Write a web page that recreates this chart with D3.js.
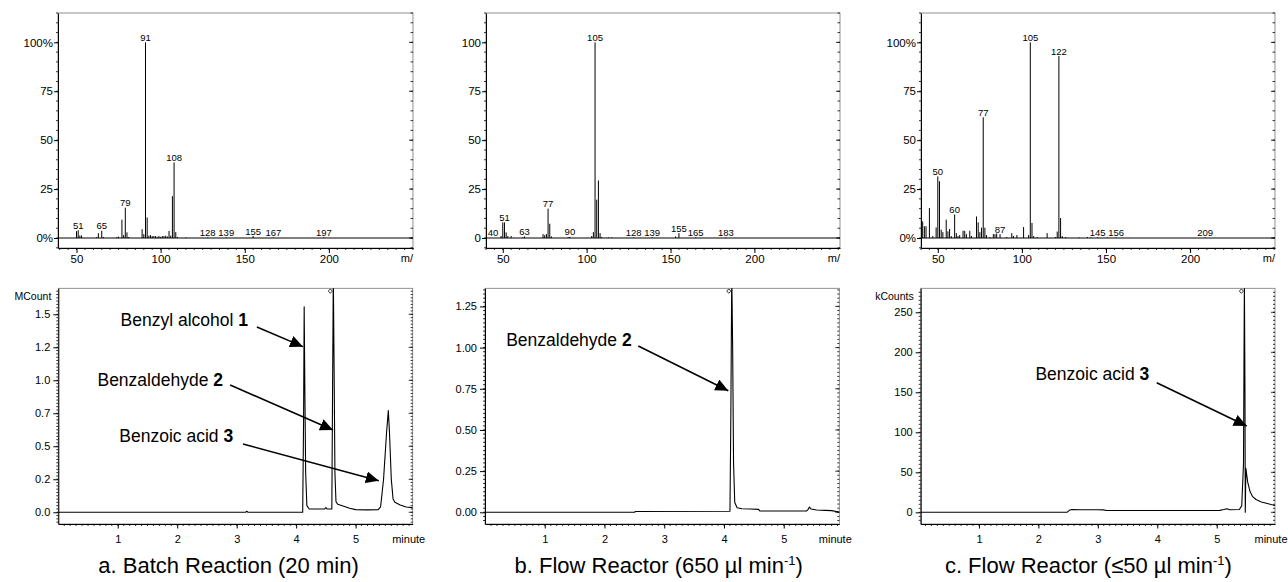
<!DOCTYPE html>
<html>
<head>
<meta charset="utf-8">
<script src="https://cdn.jsdelivr.net/npm/d3@7"></script>
<style>
    body { margin: 0; background: #fff; }
    svg { font-family: "Liberation Sans", Arial, Helvetica, sans-serif; }
</style>
</head>
<body>
<svg id="chart" width="1288" height="582"></svg>
<script>
// Mass spectra: [m/z, relative intensity %]
const specA = [[50,3.5],[51,4],[52,1.3],[53,1.3],[62,0.5],[63,2.5],[65,3.7],[66,0.5],[74,0.5],[75,0.7],
    [77,9.4],[78,1.5],[79,15.5],[80,2.9],[81,0.5],[89,4.5],[90,2],[91,100],[92,10.5],[93,1.2],[94,1.5],
    [95,1],[96,1],[97,1],[98,0.6],[99,1],[100,0.6],[101,1],[102,1],[103,1.2],[104,0.8],[105,3.6],[106,1.2],
    [107,21.4],[108,38.6],[109,3],[110,0.5],[115,0.3],[128,0.3],[139,0.3],[155,1],[167,0.3],[197,0.4]];
const specALabels = [51, 65, 79, 91, 108, 128, 139, 155, 167, 197];

const specB = [[40,0.3],[49,1],[50,8],[51,8],[52,2.9],[53,1],[55,1],[62,0.4],[63,0.8],[74,2],[75,1.5],
    [76,2],[77,15],[78,7.3],[79,0.8],[89,0.5],[90,0.6],[103,1],[104,3],[105,100],[106,19.6],[107,29.4],
    [108,2.5],[109,0.5],[113,0.3],[115,0.3],[128,0.3],[139,0.3],[153,0.8],[155,2.5],[165,0.3],[183,0.3]];
const specBLabels = [40, 51, 63, 77, 90, 105, 128, 139, 155, 165, 183];

const specC = [[41,8.5],[42,6],[43,6],[45,15.3],[47,1],[49,5.4],[50,31.5],[51,29],[52,4.3],[53,3],
    [55,9.4],[56,3.4],[57,4.6],[58,1],[60,12],[61,2.5],[62,1],[63,1.5],[65,3.7],[66,3.7],[67,2],[69,3.7],
    [70,1],[73,11],[74,8],[75,3],[76,5.3],[77,61.7],[78,5.3],[79,1.5],[81,0.5],[83,2],[84,2],[85,2.3],
    [87,2],[91,0.5],[94,2.5],[95,1],[97,1.5],[101,5.6],[104,1.5],[105,100],[106,7.7],[107,1],[109,0.5],
    [115,2.5],[120,0.5],[121,3.3],[122,93],[123,10.2],[124,1],[126,0.5],[134,0.3],[139,0.5],[141,0.3],
    [145,0.3],[151,0.3],[156,0.3],[209,0.3]];
const specCLabels = [50, 60, 77, 87, 105, 122, 145, 156, 209];

const specYTicks = [0, 25, 50, 75, 100];
const specYLabelsPct = ["0%", "25", "50", "75", "100%"];
const specYLabelsPlain = ["0", "25", "50", "75", "100"];
const mzTicks = [50, 100, 150, 200];

// Chromatograms: [time (min), signal]
const chromA = [[0,0],[3.15,0],[3.17,0.008],[3.19,0],[4.11,0],[4.125,0.7],[4.135,1.557],[4.145,1.0],
    [4.16,0.3],[4.18,0.05],[4.22,0.025],[4.48,0.025],[4.5,0.035],[4.52,0.025],[4.6,0.025],[4.612,0.9],
    [4.625,1.8],[4.638,1.1],[4.652,0.3],[4.67,0.08],[4.7,0.06],[4.8,0.045],[4.9,0.03],[5.0,0.02],
    [5.2,0.018],[5.38,0.02],[5.42,0.04],[5.47,0.25],[5.52,0.6],[5.55,0.77],[5.57,0.6],[5.6,0.25],
    [5.63,0.1],[5.66,0.075],[5.75,0.055],[5.85,0.04],[5.96,0.035]];
const chromB = [[0,0],[2.5,0],[2.52,0.005],[4.1,0.006],[4.115,0.6],[4.13,1.45],[4.145,1.0],[4.16,0.3],
    [4.18,0.06],[4.22,0.028],[4.3,0.022],[4.45,0.02],[4.58,0.018],[4.6,0.008],[5.38,0.008],[5.41,0.018],
    [5.43,0.032],[5.46,0.02],[5.55,0.014],[5.7,0.012],[5.8,0.01],[5.93,0.002]];
const chromC = [[0,0],[2.48,0],[2.52,2.5],[2.56,3.5],[2.7,3.3],[3.0,3.2],[3.1,3],[3.14,2.4],[4.0,2.3],
    [5.05,2.4],[5.12,3.5],[5.17,4.5],[5.22,3.2],[5.38,3.5],[5.42,8],[5.45,60],[5.465,290],[5.475,150],
    [5.48,0],[5.49,55],[5.52,38],[5.56,26],[5.6,20],[5.66,16],[5.75,13],[5.85,11],[5.98,8.5]];

const chromATicks = [0, 0.25, 0.5, 0.75, 1.0, 1.25, 1.5];
const chromATickLabels = ["0.0", "0.2", "0.5", "0.7", "1.0", "1.2", "1.5"];
const chromBTicks = [0, 0.25, 0.5, 0.75, 1.0, 1.25];
const chromBTickLabels = ["0.00", "0.25", "0.50", "0.75", "1.00", "1.25"];
const chromCTicks = [0, 50, 100, 150, 200, 250];
const chromCTickLabels = ["0", "50", "100", "150", "200", "250"];
const timeTicks = [1, 2, 3, 4, 5];

const captions = ["a. Batch Reaction (20 min)", "b. Flow Reactor (650 \u00b5l min", "c. Flow Reactor (\u226450 \u00b5l min"];

const svg = d3.select('#chart');

// arrowhead marker
svg.append('defs').append('marker')
    .attr('id', 'arrow')
    .attr('markerUnits', 'userSpaceOnUse')
    .attr('markerWidth', 14).attr('markerHeight', 12)
    .attr('refX', 13).attr('refY', 6)
    .attr('orient', 'auto')
    .append('path')
    .attr('d', 'M0,0 L13,6 L0,12 Z')
    .attr('fill', '#000');

function styleAxis(g, size) {
    g.attr('font-family', null).attr('font-size', size);
    g.selectAll('path.domain').attr('stroke', '#000');
    g.selectAll('line').attr('stroke', '#000');
    g.selectAll('text').attr('fill', '#000');
}

// small ticks along a spine; pos(v) gives the coordinate, pos.at the spine position
function minorTicks(g, values, pos, len, orient) {
    g.selectAll(null).data(values).join('line')
        .attr('x1', d => orient === 'down' ? pos(d) : pos.at)
        .attr('x2', d => orient === 'down' ? pos(d) : pos.at - len)
        .attr('y1', d => orient === 'down' ? pos.at : pos(d))
        .attr('y2', d => orient === 'down' ? pos.at + len : pos(d))
        .attr('stroke', '#000').attr('stroke-width', 0.8);
}

function drawSpectrum(cfg) {
    const top = 13, bottom = 248;
    const x = d3.scaleLinear().domain(cfg.xDomain).range([cfg.x0, cfg.x1]);
    const y = d3.scaleLinear().domain([-5.1, 115]).range([bottom, top]);
    const g = svg.append('g');

    g.append('rect')
        .attr('x', cfg.x0).attr('y', top)
        .attr('width', cfg.x1 - cfg.x0).attr('height', bottom - top)
        .attr('fill', 'none').attr('stroke', '#777').attr('stroke-width', 0.8);

    // baseline
    g.append('line')
        .attr('x1', cfg.x0).attr('x2', cfg.x1)
        .attr('y1', y(0)).attr('y2', y(0))
        .attr('stroke', '#000').attr('stroke-width', 1.2);

    // peaks
    g.selectAll('.peak')
        .data(cfg.peaks)
        .enter().append('line')
        .attr('class', 'peak')
        .attr('x1', d => x(d[0])).attr('x2', d => x(d[0]))
        .attr('y1', y(0)).attr('y2', d => y(d[1]))
        .attr('stroke', '#000').attr('stroke-width', 1);

    // peak labels
    const lookup = new Map(cfg.peaks);
    g.selectAll('.plabel')
        .data(cfg.labels)
        .enter().append('text')
        .attr('class', 'plabel')
        .attr('x', d => Math.max(x(d), cfg.x0 + 7))
        .attr('y', d => y(lookup.get(d)) - 1.5)
        .attr('text-anchor', 'middle')
        .attr('font-size', 9.5)
        .text(d => d);

    // y axis
    const yAxis = d3.axisLeft(y).tickValues(specYTicks).tickSize(4).tickPadding(1)
        .tickSizeOuter(0).tickFormat((d, i) => cfg.yLabels[i]);
    g.append('g').attr('transform', `translate(${cfg.x0},0)`).call(yAxis).call(s => styleAxis(s, 11.5));

    const minorY = d3.range(-5, 116, 5);
    const posL = v => y(v); posL.at = cfg.x0;
    minorTicks(g, minorY, posL, 2, 'left');
    const posR = v => y(v); posR.at = cfg.x1;
    minorTicks(g, minorY, posR, 2.5, 'right');
    minorTicks(g, specYTicks, posR, 4, 'right');

    // x axis
    const xAxis = d3.axisBottom(x).tickValues(mzTicks).tickSize(5).tickPadding(2).tickSizeOuter(0);
    g.append('g').attr('transform', `translate(0,${bottom})`).call(xAxis).call(s => styleAxis(s, 11.5));
    const minorX = d3.range(40, 251, 5).filter(v => v >= cfg.xDomain[0] && v <= cfg.xDomain[1]);
    const posB = v => x(v); posB.at = bottom;
    minorTicks(g, minorX, posB, 2, 'down');

    g.append('text')
        .attr('x', cfg.x1).attr('y', bottom + 14)
        .attr('text-anchor', 'end').attr('font-size', 11)
        .text('m/');
}

function drawChrom(cfg, idx) {
    const top = 288.3, bottom = 524;
    const x = d3.scaleLinear().domain(cfg.xDomain).range([cfg.x0, cfg.x1]);
    const y = d3.scaleLinear().domain(cfg.yDomain).range([bottom, top]);
    const g = svg.append('g');

    const clipId = 'clip' + idx;
    svg.select('defs').append('clipPath').attr('id', clipId)
        .append('rect')
        .attr('x', cfg.x0).attr('y', top)
        .attr('width', cfg.x1 - cfg.x0).attr('height', bottom - top);

    g.append('rect')
        .attr('x', cfg.x0).attr('y', top)
        .attr('width', cfg.x1 - cfg.x0).attr('height', bottom - top)
        .attr('fill', 'none').attr('stroke', '#777').attr('stroke-width', 0.8);

    const line = d3.line().x(d => x(d[0])).y(d => y(d[1]));
    g.append('path')
        .datum(cfg.data)
        .attr('clip-path', `url(#${clipId})`)
        .attr('d', line)
        .attr('fill', 'none').attr('stroke', '#000').attr('stroke-width', 1.1)
        .attr('stroke-linejoin', 'round');

    // off-scale marker
    const mx = x(cfg.offscale) - 3, my = top + 2.8;
    g.append('path')
        .attr('d', `M${mx - 2},${my} L${mx},${my - 2.2} L${mx + 2},${my} L${mx},${my + 2.2} Z`)
        .attr('fill', '#fff').attr('stroke', '#000').attr('stroke-width', 0.8);

    // y axis
    const yAxis = d3.axisLeft(y).tickValues(cfg.yTicks).tickSize(5).tickPadding(3)
        .tickSizeOuter(0).tickFormat((d, i) => cfg.yTickLabels[i]);
    g.append('g').attr('transform', `translate(${cfg.x0},0)`).call(yAxis).call(s => styleAxis(s, 11));

    const minorY = d3.range(Math.ceil(cfg.yDomain[0] / cfg.yMinor) * cfg.yMinor, cfg.yDomain[1], cfg.yMinor);
    const posL = v => y(v); posL.at = cfg.x0;
    minorTicks(g, minorY, posL, 2, 'left');
    const posR = v => y(v); posR.at = cfg.x1;
    minorTicks(g, minorY, posR, 2, 'right');
    minorTicks(g, cfg.yTicks, posR, 4, 'right');

    // x axis
    const xAxis = d3.axisBottom(x).tickValues(timeTicks).tickSize(4.5).tickPadding(6.5)
        .tickSizeOuter(0).tickFormat(d3.format('d'));
    g.append('g').attr('transform', `translate(0,${bottom})`).call(xAxis).call(s => styleAxis(s, 11));
    const minorX = d3.range(1, 60).map(v => v / 10).filter(v => v > cfg.xDomain[0] && v < cfg.xDomain[1]);
    const posB = v => x(v); posB.at = bottom;
    minorTicks(g, minorX, posB, 2, 'down');

    g.append('text')
        .attr('x', cfg.x1 - 4).attr('y', bottom + 18.5)
        .attr('text-anchor', 'middle').attr('font-size', 11)
        .text('minute');

    if (cfg.unit) {
        g.append('text')
            .attr('x', cfg.x0 - 7).attr('y', top + 12)
            .attr('text-anchor', 'end').attr('font-size', 10.5)
            .text(cfg.unit);
    }

    // annotations
    cfg.notes.forEach(n => {
        const t = g.append('text')
            .attr('x', x(n.text[0])).attr('y', y(n.text[1]))
            .attr('text-anchor', 'end').attr('font-size', 17.5);
        t.append('tspan').text(n.label + ' ');
        t.append('tspan').attr('font-weight', 'bold').text(n.num);
        g.append('line')
            .attr('x1', x(n.from[0])).attr('y1', y(n.from[1]))
            .attr('x2', x(n.to[0])).attr('y2', y(n.to[1]))
            .attr('stroke', '#000').attr('stroke-width', 1.6)
            .attr('marker-end', 'url(#arrow)');
    });

    // caption
    const cap = g.append('text')
        .attr('x', (cfg.x0 + cfg.x1) / 2 + cfg.capDx).attr('y', 573)
        .attr('text-anchor', 'middle').attr('font-size', 22);
    cap.append('tspan').text(captions[idx]);
    if (idx > 0) {
        cap.append('tspan').attr('font-size', 13).attr('dy', -8).text('-1');
        cap.append('tspan').attr('dy', 8).text(')');
    }
}

drawSpectrum({ x0: 58, x1: 413, xDomain: [39, 250], peaks: specA, labels: specALabels, yLabels: specYLabelsPct });
drawSpectrum({ x0: 486, x1: 840, xDomain: [40, 251], peaks: specB, labels: specBLabels, yLabels: specYLabelsPlain });
drawSpectrum({ x0: 921, x1: 1275, xDomain: [40, 250.5], peaks: specC, labels: specCLabels, yLabels: specYLabelsPct });

drawChrom({
    x0: 58.3, x1: 412.7, xDomain: [0, 5.96], yDomain: [-0.089, 1.697], data: chromA, capDx: -7,
    yTicks: chromATicks, yTickLabels: chromATickLabels, yMinor: 0.025, unit: 'MCount', offscale: 4.625,
    notes: [
        { label: 'Benzyl alcohol', num: '1', text: [3.19, 1.415], from: [3.34, 1.404], to: [4.115, 1.255] },
        { label: 'Benzaldehyde', num: '2', text: [2.77, 0.957], from: [2.89, 0.964], to: [4.62, 0.623] },
        { label: 'Benzoic acid', num: '3', text: [2.94, 0.536], from: [3.106, 0.517], to: [5.39, 0.239] }
    ]
}, 0);
drawChrom({
    x0: 485, x1: 839.3, xDomain: [0, 5.93], yDomain: [-0.071, 1.36], data: chromB, capDx: -3.5,
    yTicks: chromBTicks, yTickLabels: chromBTickLabels, yMinor: 0.025, unit: null, offscale: 4.13,
    notes: [
        { label: 'Benzaldehyde', num: '2', text: [2.455, 1.01], from: [2.566, 1.01], to: [4.072, 0.738] }
    ]
}, 1);
drawChrom({
    x0: 920.7, x1: 1275, xDomain: [0.02, 5.98], yDomain: [-14.6, 280], data: chromC, capDx: -9.5,
    yTicks: chromCTicks, yTickLabels: chromCTickLabels, yMinor: 5, unit: 'kCounts', offscale: 5.465,
    notes: [
        { label: 'Benzoic acid', num: '3', text: [3.865, 165.4], from: [3.99, 162], to: [5.504, 107.9] }
    ]
}, 2);
</script>
</body>
</html>
